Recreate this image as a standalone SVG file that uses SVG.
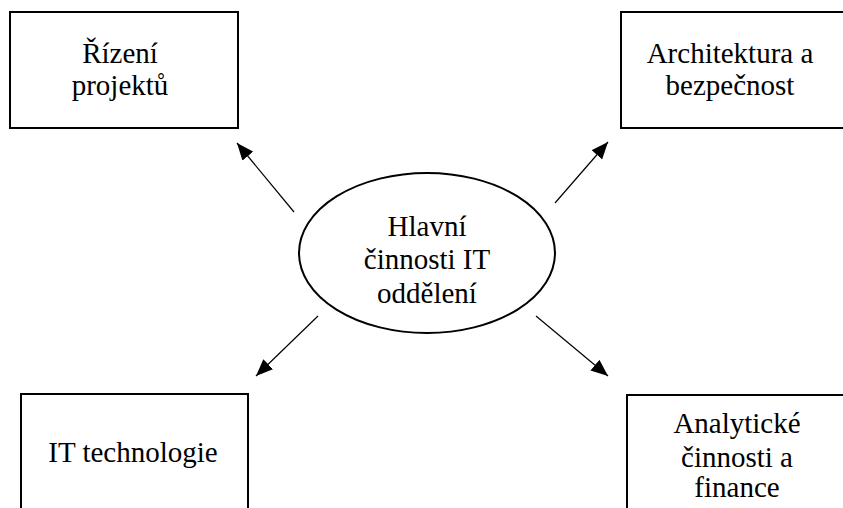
<svg xmlns="http://www.w3.org/2000/svg" width="843" height="508" viewBox="0 0 843 508">
<style>
.box{fill:#fff;stroke:#000;stroke-width:2}
.ell{fill:#fff;stroke:#000;stroke-width:2}
.t{font-family:"Liberation Serif","Times New Roman",serif;font-size:29px;fill:#000;text-anchor:middle}
.c{stroke:#000;stroke-width:1.2;fill:none;marker-end:url(#ah)}
</style>
<defs>
<marker id="ah" markerUnits="userSpaceOnUse" markerWidth="18" markerHeight="14" refX="17" refY="7" orient="auto">
<path d="M0,0 L17,7 L0,14 Z" fill="#000"/>
</marker>
</defs>
<rect width="843" height="508" fill="#fff"/>
<g id="connectors">
<line class="c" x1="294" y1="212" x2="237" y2="143"/>
<line class="c" x1="555" y1="203" x2="608" y2="142"/>
<line class="c" x1="318" y1="316" x2="256" y2="376"/>
<line class="c" x1="536" y1="316" x2="608" y2="376"/>
</g>
<g id="center">
<ellipse class="ell" cx="427" cy="253" rx="128" ry="80"/>
<text class="t" x="427" y="236">Hlavní</text>
<text class="t" x="427" y="269">činnosti IT</text>
<text class="t" x="427" y="303">oddělení</text>
</g>
<g id="rizeni">
<rect class="box" x="10" y="12" width="228" height="116"/>
<text class="t" x="120" y="63">Řízení</text>
<text class="t" x="120" y="95">projektů</text>
</g>
<g id="architektura">
<rect class="box" x="621" y="12" width="240" height="116"/>
<text class="t" x="730" y="63">Architektura a</text>
<text class="t" x="730" y="95">bezpečnost</text>
</g>
<g id="it">
<rect class="box" x="21" y="394" width="227" height="130"/>
<text class="t" x="133" y="462">IT technologie</text>
</g>
<g id="analyticke">
<rect class="box" x="627" y="395" width="240" height="130"/>
<text class="t" x="737" y="433">Analytické</text>
<text class="t" x="737" y="467">činnosti a</text>
<text class="t" x="737" y="497">finance</text>
</g>
</svg>
